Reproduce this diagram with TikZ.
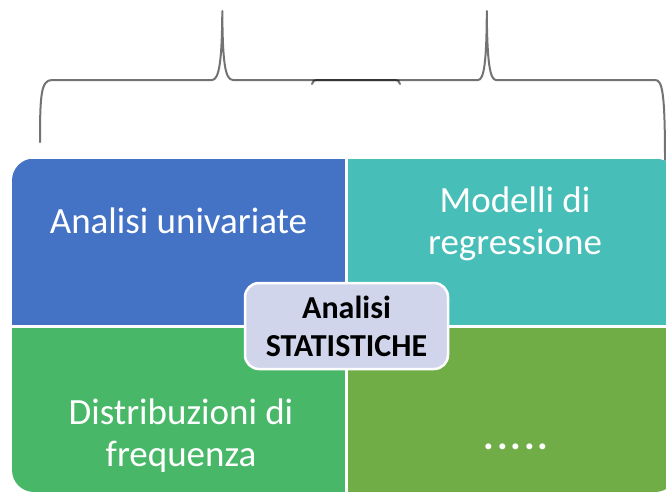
\documentclass[tikz,border=0pt]{standalone}
\usepackage{fontspec}
\setmainfont{Carlito}
\definecolor{boxblue}{RGB}{68,114,196}
\definecolor{boxteal}{RGB}{72,190,184}
\definecolor{boxgreen}{RGB}{73,183,104}
\definecolor{boxlime}{RGB}{112,173,71}
\definecolor{centerfill}{RGB}{208,213,236}
\begin{document}
\begin{tikzpicture}[x=1pt,y=-1pt,
  celltext/.style={text=white,font=\fontsize{37}{42}\selectfont,align=center,inner sep=0pt},
  brace/.style={draw=black,draw opacity=0.55,line width=2pt,line cap=round,line join=round},
  centerbox/.style={fill=centerfill,draw=white,line width=2.5pt,rounded corners=14pt,
    minimum width=203pt,minimum height=86pt,inner sep=0pt,align=center,
    font=\fontsize{32}{38}\selectfont\bfseries}]
\useasboundingbox (0,0) rectangle (666,491);
\clip (0,0) rectangle (666,491);
% quadrants clipped to rounded outer frame
\begin{scope}
  \clip[rounded corners=22pt] (12,158.5) rectangle (677,492);
  \fill[boxblue]  (12,158.5) rectangle (345,325);
  \fill[boxteal]  (348,158.5) rectangle (677,325);
  \fill[boxgreen] (12,328) rectangle (345,492);
  \fill[boxlime]  (348,328) rectangle (677,492);
\end{scope}
% braces
\draw[brace] (40,142) .. controls (40,95) and (41,80) .. (52,80) -- (212,80)
  .. controls (219,80) and (222,62) .. (222.3,11)
  .. controls (222.6,62) and (225,80) .. (233,80) -- (393,80)
  .. controls (398,80) and (400,81) .. (400,84);
\draw[brace] (312,84) .. controls (312,81) and (314,80) .. (319,80) -- (478,80)
  .. controls (484,80) and (486.6,62) .. (486.8,11)
  .. controls (487,62) and (490,80) .. (496,80) -- (655,80)
  .. controls (662,80) and (665,90) .. (665,160);
% texts
\node[celltext] (uni) at (178.5,221) {Analisi univariate};
\node[celltext] (reg) at (515,224) {Modelli di\\regressione};
\node[celltext] (dist) at (181,436) {Distribuzioni di\\frequenza};
\node[celltext,font=\fontsize{40}{42}\selectfont\bfseries\addfontfeature{LetterSpace=7}] (dots) at (516,447) {.....};
\node[centerbox] (center) at (346.5,326) {Analisi\\STATISTICHE};
\end{tikzpicture}
\end{document}
